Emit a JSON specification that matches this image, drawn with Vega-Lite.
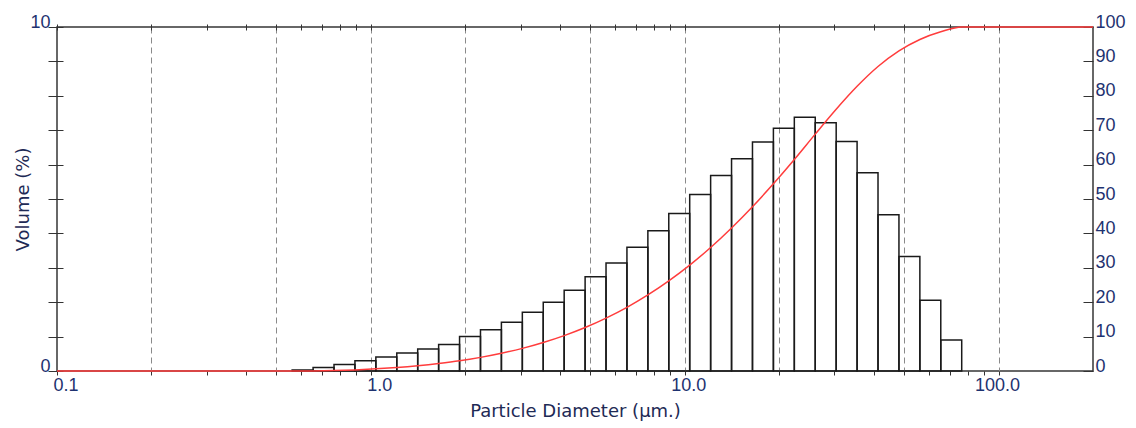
{
  "$schema": "https://vega.github.io/schema/vega-lite/v6.json",
  "width": 1036,
  "height": 344,
  "autosize": {"type": "none"},
  "padding": {"left": 57, "top": 27, "right": 43, "bottom": 57},
  "background": "white",
  "config": {
    "view": {"stroke": "#363636", "strokeWidth": 1.5},
    "axis": {
      "domain": false,
      "tickColor": "#333333",
      "tickWidth": 1,
      "labelFont": "Liberation Sans",
      "labelFontSize": 18,
      "labelColor": "#1e3270",
      "titleFont": "DejaVu Sans",
      "titleFontSize": 18,
      "titleFontWeight": "normal",
      "titleColor": "#1e2a55"
    }
  },
  "datasets": {
    "bins": [
      {"lo": 0.5614, "hi": 0.6546, "vol": 0.03},
      {"lo": 0.6546, "hi": 0.7632, "vol": 0.10},
      {"lo": 0.7632, "hi": 0.8899, "vol": 0.19},
      {"lo": 0.8899, "hi": 1.0375, "vol": 0.30},
      {"lo": 1.0375, "hi": 1.2097, "vol": 0.41},
      {"lo": 1.2097, "hi": 1.4103, "vol": 0.52},
      {"lo": 1.4103, "hi": 1.6444, "vol": 0.64},
      {"lo": 1.6444, "hi": 1.9173, "vol": 0.77},
      {"lo": 1.9173, "hi": 2.2354, "vol": 1.00},
      {"lo": 2.2354, "hi": 2.6062, "vol": 1.20},
      {"lo": 2.6062, "hi": 3.0389, "vol": 1.42},
      {"lo": 3.0389, "hi": 3.5428, "vol": 1.71},
      {"lo": 3.5428, "hi": 4.1305, "vol": 2.00},
      {"lo": 4.1305, "hi": 4.8165, "vol": 2.35},
      {"lo": 4.8165, "hi": 5.6154, "vol": 2.74},
      {"lo": 5.6154, "hi": 6.5464, "vol": 3.14},
      {"lo": 6.5464, "hi": 7.6331, "vol": 3.60},
      {"lo": 7.6331, "hi": 8.8985, "vol": 4.08},
      {"lo": 8.8985, "hi": 10.375, "vol": 4.58},
      {"lo": 10.375, "hi": 12.097, "vol": 5.13},
      {"lo": 12.097, "hi": 14.103, "vol": 5.68},
      {"lo": 14.103, "hi": 16.444, "vol": 6.17},
      {"lo": 16.444, "hi": 19.173, "vol": 6.66},
      {"lo": 19.173, "hi": 22.354, "vol": 7.06},
      {"lo": 22.354, "hi": 26.062, "vol": 7.38},
      {"lo": 26.062, "hi": 30.389, "vol": 7.22},
      {"lo": 30.389, "hi": 35.428, "vol": 6.67},
      {"lo": 35.428, "hi": 41.305, "vol": 5.76},
      {"lo": 41.305, "hi": 48.165, "vol": 4.54},
      {"lo": 48.165, "hi": 56.154, "vol": 3.33},
      {"lo": 56.154, "hi": 65.464, "vol": 2.06},
      {"lo": 65.464, "hi": 76.331, "vol": 0.90}
    ],
    "cum": [
      {"d": 0.1, "pct": 0},
      {"d": 0.5614, "pct": 0},
      {"d": 0.6546, "pct": 0.03},
      {"d": 0.7632, "pct": 0.13},
      {"d": 0.8899, "pct": 0.32},
      {"d": 1.0375, "pct": 0.62},
      {"d": 1.2097, "pct": 1.03},
      {"d": 1.4103, "pct": 1.55},
      {"d": 1.6444, "pct": 2.19},
      {"d": 1.9173, "pct": 2.96},
      {"d": 2.2354, "pct": 3.96},
      {"d": 2.6062, "pct": 5.16},
      {"d": 3.0389, "pct": 6.58},
      {"d": 3.5428, "pct": 8.29},
      {"d": 4.1305, "pct": 10.29},
      {"d": 4.8165, "pct": 12.64},
      {"d": 5.6154, "pct": 15.38},
      {"d": 6.5464, "pct": 18.52},
      {"d": 7.6331, "pct": 22.12},
      {"d": 8.8985, "pct": 26.2},
      {"d": 10.375, "pct": 30.78},
      {"d": 12.097, "pct": 35.91},
      {"d": 14.103, "pct": 41.59},
      {"d": 16.444, "pct": 47.76},
      {"d": 19.173, "pct": 54.42},
      {"d": 22.354, "pct": 61.48},
      {"d": 26.062, "pct": 68.86},
      {"d": 30.389, "pct": 76.08},
      {"d": 35.428, "pct": 82.75},
      {"d": 41.305, "pct": 88.51},
      {"d": 48.165, "pct": 93.05},
      {"d": 56.154, "pct": 96.38},
      {"d": 65.464, "pct": 98.6},
      {"d": 76.331, "pct": 100},
      {"d": 200, "pct": 100}
    ]
  },
  "layer": [
    {
      "data": {"name": "bins"},
      "mark": {"type": "bar", "fill": "transparent", "stroke": "#1a1a1a", "strokeWidth": 1.5},
      "encoding": {
        "x": {
          "field": "lo",
          "type": "quantitative",
          "scale": {"type": "log", "domain": [0.1, 200], "nice": false},
          "axis": {
            "orient": "bottom",
            "values": [0.1, 0.2, 0.3, 0.4, 0.5, 0.6, 0.7, 0.8, 0.9, 1, 2, 3, 4, 5, 6, 7, 8, 9, 10, 20, 30, 40, 50, 60, 70, 80, 90, 100],
            "tickSize": 4,
            "labelPadding": 1,
            "labelAlign": "right",
            "labelOffset": 21,
            "labelFlush": false,
            "labelOverlap": false,
            "labelBaseline": "top",
            "labelFont": "Liberation Sans",
            "labelExpr": "datum.value == 0.1 || datum.value == 1 || datum.value == 10 || datum.value == 100 ? format(datum.value, '.1f') : ''",
            "title": "Particle Diameter (µm.)",
            "titleBaseline": "alphabetic",
            "titleY": 45,
            "titleX": 518,
            "grid": true,
            "gridColor": "#8a8a8a",
            "gridDash": [6, 4],
            "gridWidth": 1,
            "gridOpacity": {"condition": {"test": "datum.value == 0.2 || datum.value == 0.5 || datum.value == 1 || datum.value == 2 || datum.value == 5 || datum.value == 10 || datum.value == 20 || datum.value == 50 || datum.value == 100", "value": 1}, "value": 0}
          }
        },
        "x2": {"field": "hi"},
        "y": {
          "field": "vol",
          "type": "quantitative",
          "stack": null,
          "scale": {"domain": [0, 10], "nice": false},
          "axis": {
            "orient": "left",
            "values": [0, 1, 2, 3, 4, 5, 6, 7, 8, 9, 10],
            "offset": -6,
            "tickSize": 15,
            "labelPadding": -2,
            "labelAlign": "right",
            "labelBaseline": "alphabetic",
            "labelFont": "Liberation Sans",
            "labelExpr": "datum.value == 0 || datum.value == 10 ? datum.label : ''",
            "grid": false,
            "title": "Volume (%)",
            "titleBaseline": "alphabetic",
            "titleAngle": -90,
            "titleX": -35,
            "titleY": 172
          }
        },
        "y2": {"datum": 0}
      }
    },
    {
      "data": {"name": "cum"},
      "mark": {"type": "line", "color": "#ff3c3c", "strokeWidth": 1.5, "interpolate": "monotone"},
      "encoding": {
        "x": {
          "field": "d",
          "type": "quantitative",
          "scale": {"type": "log", "domain": [0.1, 200], "nice": false},
          "axis": {
            "orient": "top",
            "values": [0.1, 0.2, 0.3, 0.4, 0.5, 0.6, 0.7, 0.8, 0.9, 1, 2, 3, 4, 5, 6, 7, 8, 9, 10, 20, 30, 40, 50, 60, 70, 80, 90, 100],
            "offset": -3,
            "tickSize": 6,
            "labels": false,
            "grid": false,
            "title": null
          }
        },
        "y": {
          "field": "pct",
          "type": "quantitative",
          "scale": {"domain": [0, 100], "nice": false},
          "axis": {
            "orient": "right",
            "values": [0, 10, 20, 30, 40, 50, 60, 70, 80, 90, 100],
            "offset": -10,
            "tickSize": 10,
            "labelPadding": 2,
            "labelAlign": "left",
            "labelBaseline": "alphabetic",
            "labelFont": "Liberation Sans",
            "grid": false,
            "title": null
          }
        }
      }
    }
  ],
  "resolve": {"scale": {"y": "independent"}, "axis": {"x": "independent", "y": "independent"}}
}
